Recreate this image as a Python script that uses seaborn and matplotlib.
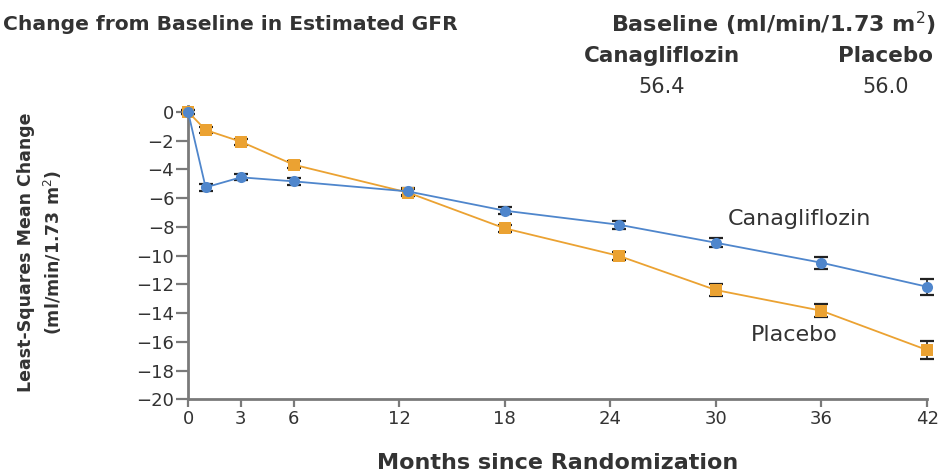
import matplotlib
matplotlib.use("Agg")
import matplotlib.pyplot as plt
import seaborn as sns
import pandas as pd

# Months since randomization for each visit
months = [0, 1, 3, 6, 12.5, 18, 24.5, 30, 36, 42]

# Least-squares mean change in eGFR (ml/min/1.73 m2)
cana_mean = [0.0, -5.26, -4.56, -4.84, -5.54, -6.88, -7.86, -9.11, -10.5, -12.17]
cana_err = [0.15, 0.22, 0.22, 0.22, 0.24, 0.26, 0.26, 0.32, 0.42, 0.56]
placebo_mean = [0.0, -1.27, -2.08, -3.68, -5.62, -8.11, -10.03, -12.4, -13.84, -16.57]
placebo_err = [0.15, 0.22, 0.22, 0.24, 0.24, 0.26, 0.28, 0.42, 0.44, 0.64]

x_ticks = [0, 3, 6, 12, 18, 24, 30, 36, 42]
y_ticks = list(range(0, -21, -2))

baseline_groups = ["Canagliflozin", "Placebo"]
baseline_values = [56.4, 56.0]

BLUE = "#4f86cc"
ORANGE = "#eba232"
GRAY = "#7a7a7a"
TEXT = "#333333"

sns.set_theme(style="white")
plt.rcParams["font.family"] = ["DejaVu Sans"]
plt.rcParams["axes.unicode_minus"] = True

df = pd.DataFrame({
    "month": months * 2,
    "change": placebo_mean + cana_mean,
    "err": placebo_err + cana_err,
    "group": ["Placebo"] * len(months) + ["Canagliflozin"] * len(months),
})

fig = plt.figure(figsize=(9.43, 4.72), dpi=100)
ax = fig.add_axes([0.1994, 0.154, 0.7837, 0.6214])

colors = {"Placebo": ORANGE, "Canagliflozin": BLUE}
markers = {"Placebo": "s", "Canagliflozin": "o"}

for grp in ["Placebo", "Canagliflozin"]:
    sub = df[df["group"] == grp]
    eb = ax.errorbar(sub["month"], sub["change"], yerr=sub["err"], fmt="none",
                     ecolor="#222222", elinewidth=1.2, capsize=5, capthick=1.6,
                     zorder=3)
    for art in eb.get_children():
        art.set_clip_on(False)
    sns.lineplot(data=sub, x="month", y="change", ax=ax, color=colors[grp],
                 marker=markers[grp], markersize=8, markeredgewidth=0,
                 linewidth=1.3, errorbar=None, zorder=4, clip_on=False)

ax.set_xlim(0, 42)
ax.set_ylim(-20, 0.4)
ax.set_xticks(x_ticks)
ax.set_yticks(y_ticks)
ax.set_xticklabels([str(t) for t in x_ticks], fontsize=13, color=TEXT)
ax.set_yticklabels([("\u2212" + str(-t)) if t < 0 else str(t) for t in y_ticks],
                   fontsize=13, color=TEXT)

for side in ["top", "right"]:
    ax.spines[side].set_visible(False)
for side in ["left", "bottom"]:
    ax.spines[side].set_color(GRAY)
    ax.spines[side].set_linewidth(2)
ax.tick_params(axis="y", direction="out", length=9, width=1.6, color=GRAY,
               left=True, pad=1)
ax.tick_params(axis="x", direction="out", length=6, width=1.6, color=GRAY,
               bottom=True, pad=2)

ax.set_xlabel("Months since Randomization", fontsize=16, fontweight="bold",
              color=TEXT, labelpad=18)
ax.set_ylabel("Least-Squares Mean Change\n(ml/min/1.73 m$^2$)", fontsize=12.5,
              fontweight="bold", color=TEXT, linespacing=1.4)
ax.yaxis.set_label_coords(-0.168, 0.5)

ax.text(30.66, -7.46, "Canagliflozin", fontsize=16, color=TEXT,
        ha="left", va="center")
ax.text(32.0, -15.53, "Placebo", fontsize=16, color=TEXT,
        ha="left", va="center")

# Header text above the plot
fig.text(3 / 943, 1 - 24 / 472, "Change from Baseline in Estimated GFR",
         fontsize=14.6, fontweight="bold", color=TEXT, ha="left", va="center")
fig.text(936 / 943, 1 - 24 / 472, "Baseline (ml/min/1.73 m$^2$)",
         fontsize=16, fontweight="bold", color=TEXT, ha="right", va="center")
for name, val, xc in zip(baseline_groups, baseline_values, [662, 886]):
    fig.text(xc / 943, 1 - 56 / 472, name, fontsize=15.5, fontweight="bold",
             color=TEXT, ha="center", va="center")
    fig.text(xc / 943, 1 - 87 / 472, f"{val:.1f}", fontsize=15,
             color=TEXT, ha="center", va="center")

fig.savefig("out.png", dpi=100, facecolor="white")
